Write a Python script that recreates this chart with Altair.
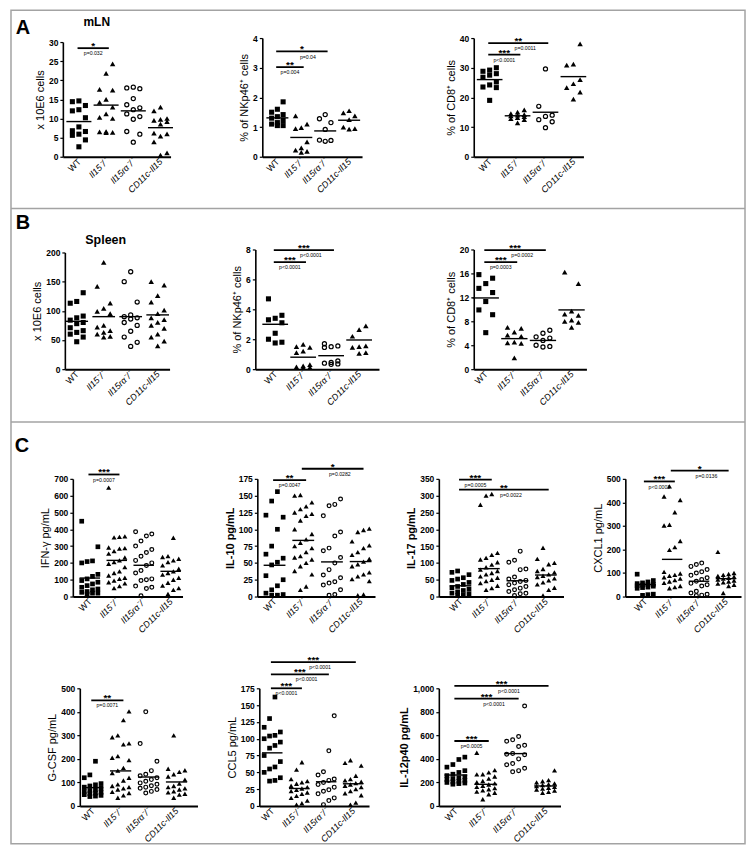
import altair as alt
import pandas as pd

FONT = "Liberation Sans"
GROUPS = ["WT", "Il15⁻/⁻", "Il15rα⁻/⁻", "CD11c-Il15"]

# ---------------- Panel A (mLN) ----------------
A1_WT = [14.6, 14.4, 13.4, 12.3, 12.0, 10.2, 7.8, 6.8, 6.6, 5.9, 5.6, 4.4, 2.6]
A1_KO = [24.3, 21.8, 17.6, 17.4, 15.0, 14.2, 13.0, 11.2, 10.3, 10.0, 6.6, 6.5, 6.4, 6.3]
A1_RA = [18.2, 18.0, 17.8, 15.2, 13.6, 12.8, 12.3, 11.2, 10.5, 9.8, 6.6, 5.9, 3.8]
A1_CD = [13.0, 12.0, 10.0, 9.8, 9.5, 9.2, 8.5, 6.2, 6.0, 5.4, 3.9, 1.0, 0.4]
A1_MEAN = [9.2, 13.5, 12.0, 7.6]
A1_SIG = [(0, 1, 28.4, "*", "p=0.032")]

A2_WT = [1.85, 1.6, 1.5, 1.42, 1.35, 1.3, 1.22, 1.15, 1.1, 1.05, 1.05]
A2_KO = [1.38, 1.1, 0.98, 0.95, 0.5, 0.3, 0.22, 0.18, 0.15]
A2_RA = [1.42, 1.28, 1.15, 0.92, 0.56, 0.55, 0.52]
A2_CD = [1.55, 1.48, 1.38, 1.25, 1.0, 0.95, 0.93]
A2_MEAN = [1.31, 0.65, 0.87, 1.23]
A2_SIG = [(0, 1, 3.02, "**", "p=0.004"), (0, 2, 3.55, "*", "p=0.04")]

A3_WT = [30.0, 29.2, 28.8, 28.0, 27.5, 26.8, 25.2, 24.2, 23.5, 23.3, 19.0]
A3_KO = [15.8, 15.0, 14.5, 14.2, 14.0, 13.8, 13.5, 13.2, 12.8, 12.5, 11.4]
A3_RA = [29.6, 17.0, 14.0, 13.6, 12.5, 11.8, 9.8]
A3_CD = [38.0, 31.2, 30.9, 26.0, 24.6, 23.3, 21.8, 19.4]
A3_MEAN = [26.0, 13.8, 15.0, 27.0]
A3_SIG = [(0, 1, 34.4, "***", "p<0.0001"), (0, 2, 38.3, "**", "p=0.0011")]

# ---------------- Panel B (Spleen) ----------------
B1_WT = [131, 116, 113, 91, 88, 84, 80, 78, 71, 66, 63, 60, 55, 47]
B1_KO = [183, 142, 113, 104, 99, 95, 75, 72, 66, 63, 60, 56, 55]
B1_RA = [167, 150, 115, 93, 90, 88, 86, 80, 75, 65, 55, 46, 39]
B1_CD = [150, 144, 126, 115, 101, 95, 88, 85, 80, 75, 70, 60, 55, 48, 40]
B1_MEAN = [82, 90, 90, 93]
B1_SIG = []

B2_WT = [4.7, 3.6, 3.4, 3.3, 3.1, 2.4, 2.0, 1.8, 1.75]
B2_KO = [1.65, 1.5, 1.45, 1.2, 1.1, 0.3, 0.22, 0.15, 0.12, 0.1]
B2_RA = [1.7, 1.55, 1.5, 1.45, 0.55, 0.45, 0.4, 0.35, 0.32]
B2_CD = [2.9, 2.65, 2.2, 1.55, 1.5, 1.45, 1.1, 1.05]
B2_MEAN = [3.0, 0.8, 0.9, 1.95]
B2_SIG = [(0, 1, 7.15, "***", "p<0.0001"), (0, 2, 7.96, "***", "p<0.0001")]

B3_WT = [15.8, 15.2, 14.3, 13.5, 12.8, 11.3, 9.9, 9.1, 6.1]
B3_KO = [7.0, 6.8, 6.2, 5.7, 5.5, 4.5, 4.4, 4.3, 1.9]
B3_RA = [6.5, 6.0, 5.4, 5.2, 4.8, 4.0, 3.8, 3.7]
B3_CD = [16.2, 14.3, 9.7, 9.2, 9.0, 8.2, 8.0, 7.8, 7.0]
B3_MEAN = [11.9, 5.1, 4.8, 9.9]
B3_SIG = [(0, 1, 17.9, "***", "p=0.0003"), (0, 2, 19.9, "***", "p=0.0002")]

# ---------------- Panel C (cytokines) ----------------
C1_WT = [448, 296, 212, 208, 200, 132, 120, 105, 95, 85, 75, 65, 55, 45, 40, 30, 25, 20, 20, 15]
C1_KO = [648, 358, 355, 352, 292, 288, 285, 270, 255, 232, 215, 205, 195, 175, 150, 140, 125, 112,
         105, 95, 85, 78, 62, 50]
C1_RA = [385, 372, 360, 330, 300, 280, 262, 240, 215, 200, 185, 155, 140, 105, 100, 95, 62, 55, 48, 5]
C1_CD = [350, 240, 235, 225, 215, 205, 185, 165, 150, 140, 130, 112, 100, 82, 65, 50, 40, 15]
C1_MEAN = [110, 215, 186, 150]
C1_SIG = [(0, 1, 726, "***", "p=0.0007")]

C2_WT = [156, 142, 121, 118, 100, 75, 63, 57, 51, 47, 31, 25, 16, 10, 5, 3, 2, 2]
C2_KO = [151, 150, 140, 134, 130, 125, 123, 120, 113, 100, 93, 85, 80, 75, 72, 66, 60, 58, 55, 50,
         45, 38, 33, 15, 10]
C2_RA = [145, 137, 135, 120, 96, 90, 72, 68, 58, 50, 40, 32, 28, 22, 20, 17, 10, 3, 2]
C2_CD = [101, 99, 96, 82, 76, 72, 66, 62, 56, 52, 48, 45, 36, 33, 30, 26, 23, 3, 2]
C2_MEAN = [46.5, 83.5, 51.5, 52]
C2_SIG = [(0, 1, 173, "**", "p=0.0047"), (1, 3, 190, "*", "p=0.0282")]

C3_WT = [76, 72, 65, 56, 52, 48, 42, 36, 30, 26, 22, 18, 14, 10, 8, 5, 3]
C3_KO = [305, 300, 273, 130, 124, 115, 110, 102, 95, 87, 80, 76, 70, 66, 60, 56, 50, 46, 40, 32, 25, 20]
C3_RA = [135, 108, 102, 82, 80, 58, 52, 48, 45, 40, 35, 30, 25, 20, 15, 10, 8, 3]
C3_CD = [145, 112, 100, 96, 82, 76, 72, 66, 62, 58, 54, 48, 42, 36, 26, 20, 3]
C3_MEAN = [32, 83, 47, 64]
C3_SIG = [(0, 1, 348, "***", "p=0.0005"), (0, 3, 318, "**", "p=0.0022")]

C4_WT = [95, 68, 62, 58, 55, 52, 50, 48, 46, 44, 40, 38, 35, 10, 8, 5]
C4_KO = [468, 425, 410, 358, 305, 302, 236, 210, 198, 105, 98, 92, 88, 82, 76, 70, 64, 58, 45, 40, 35]
C4_RA = [142, 136, 128, 115, 105, 100, 90, 80, 72, 65, 56, 50, 45, 22, 15, 10, 6, 4]
C4_CD = [190, 100, 96, 92, 88, 84, 80, 76, 72, 68, 64, 60, 55, 50, 45, 15]
C4_MEAN = [51, 158, 65, 76]
C4_SIG = [(0, 1, 489, "***", "p<0.0001"), (1, 3, 535, "*", "p=0.0136")]

C5_WT = [190, 132, 120, 95, 90, 85, 80, 75, 70, 66, 62, 58, 55, 52, 48, 45, 42, 40]
C5_KO = [402, 365, 300, 292, 266, 262, 212, 205, 195, 162, 150, 140, 120, 108, 92, 85, 80, 75, 70,
         60, 55, 45, 35]
C5_RA = [400, 265, 190, 150, 135, 128, 120, 112, 105, 98, 92, 86, 80, 75, 70, 62, 55]
C5_CD = [300, 158, 152, 145, 135, 125, 112, 95, 85, 80, 75, 70, 62, 58, 52, 48, 35]
C5_MEAN = [78, 149, 123, 102]
C5_SIG = [(0, 1, 449, "**", "p=0.0071")]

C6_WT = [162, 130, 117, 110, 105, 104, 100, 95, 90, 86, 75, 66, 58, 55, 50, 42, 38, 37]
C6_KO = [65, 54, 40, 37, 35, 33, 30, 28, 26, 24, 22, 20, 18, 15, 12, 8, 4, 2]
C6_RA = [134, 82, 51, 46, 40, 38, 35, 32, 28, 24, 22, 18, 12, 8, 2]
C6_CD = [68, 64, 60, 45, 40, 38, 36, 34, 32, 30, 28, 25, 22, 19, 16, 5, 2]
C6_MEAN = [79, 26, 36, 33]
C6_SIG = [(0, 1, 175, "***", "p<0.0001"), (0, 2, 195.8, "***", "p<0.0001"),
          (0, 3, 214, "***", "p<0.0001")]

C7_WT = [415, 395, 352, 330, 300, 285, 270, 258, 248, 240, 232, 225, 218, 210, 205, 200, 195, 190, 185]
C7_KO = [452, 305, 285, 270, 268, 250, 232, 212, 202, 192, 182, 172, 162, 152, 142, 132, 122, 112, 100, 57]
C7_RA = [850, 590, 562, 550, 515, 505, 445, 440, 435, 400, 360, 350, 320, 300, 290]
C7_CD = [302, 220, 210, 200, 192, 185, 178, 170, 162, 155, 148, 140, 130, 120, 112]
C7_MEAN = [263, 184, 445, 170]
C7_SIG = [(0, 1, 552, "***", "p=0.0005"), (0, 2, 912, "***", "p<0.0001"),
          (0, 3, 1020, "***", "p<0.0001")]

LABEL_EXPR = "['" + "','".join(GROUPS) + "'][datum.value]"
DUMMY = pd.DataFrame({"z": [0]})


def panel(groups, means, sigs, ymax, yticks, ytitle, width, height, pad_l, pad_r,
          shift=0, ytop=0, title_bold=False, ncol=3, jit=0.24, hw=0.42, ms=1.0):
    rows = [{"g": gi, "v": v} for gi, vals in enumerate(groups) for v in vals]
    df = pd.DataFrame(rows)
    xs = alt.Scale(domain=[-pad_l, 3 + pad_r], range=[shift, shift + width], nice=False, zero=False)
    ys = alt.Scale(domain=[0, ymax], range=[height, ytop], nice=False, zero=True)
    xax = alt.Axis(values=[0, 1, 2, 3], labelExpr=LABEL_EXPR, labelAngle=-45,
                   labelAlign="right", labelBaseline="middle", labelFont=FONT,
                   labelFontSize=9, labelColor="black",
                   labelFontStyle={"condition": {"test": "datum.value == 0", "value": "normal"},
                                   "value": "italic"},
                   labelPadding=3, ticks=False, domainColor="black", domainWidth=2,
                   grid=False, title=None, labelOverlap=False, labelFlush=False, labelBound=False)
    yax = alt.Axis(values=yticks, title=ytitle, titleFont=FONT, titleFontSize=11,
                   titleFontWeight=("bold" if title_bold else "normal"), titleColor="black",
                   titlePadding=3, labelFont=FONT, labelFontSize=8.5, labelFontWeight="bold",
                   labelColor="black", labelPadding=2, tickSize=3, tickColor="black",
                   tickWidth=1.2, domainColor="black", domainWidth=1.6, grid=False,
                   labelFlush=False, labelOverlap=False, offset=-shift)

    def X(f):
        return alt.X(f, type="quantitative", scale=xs, axis=xax)

    def Y(f):
        return alt.Y(f, type="quantitative", scale=ys, axis=yax)

    half = (ncol - 1) / 2
    pts = alt.Chart(df).transform_window(
        rk="row_number()", groupby=["g"], sort=[alt.SortField("v", order="ascending")]
    ).transform_calculate(xj=f"datum.g + ((datum.rk % {ncol}) - {half}) * {jit}")
    layers = [
        pts.transform_filter("datum.g == 0").mark_square(size=26 * ms, color="black", opacity=1)
        .encode(x=X("xj"), y=Y("v")),
        pts.transform_filter("datum.g == 1").mark_point(shape="triangle-up", filled=True,
                                                         size=30 * ms, color="black", opacity=1)
        .encode(x=X("xj"), y=Y("v")),
        pts.transform_filter("datum.g == 2").mark_point(shape="circle", filled=False,
                                                         size=17 * ms, color="black",
                                                         strokeWidth=1.2, opacity=1)
        .encode(x=X("xj"), y=Y("v")),
        pts.transform_filter("datum.g == 3").mark_point(shape="triangle-up", filled=True,
                                                         size=30 * ms, color="black", opacity=1)
        .encode(x=X("xj"), y=Y("v")),
    ]
    mdf = pd.DataFrame({"g": [0, 1, 2, 3], "m": means})
    layers.append(
        alt.Chart(mdf).transform_calculate(a=f"datum.g - {hw}", b=f"datum.g + {hw}")
        .mark_rule(color="black", strokeWidth=1.4)
        .encode(x=X("a"), x2=alt.X2("b"), y=Y("m"))
    )
    if sigs:
        sdf = pd.DataFrame(sigs, columns=["i", "j", "y", "s", "p"])
        sb = alt.Chart(sdf).transform_calculate(
            a="datum.i - 0.05", b="datum.j + 0.1", c="(datum.i + datum.j + 0.05) / 2",
            pc="(datum.i + datum.j + 0.05) / 2 + (datum.j - datum.i > 1 ? 0.25 : 0)")
        layers.append(sb.mark_rule(color="black", strokeWidth=1.8)
                      .encode(x=X("a"), x2=alt.X2("b"), y=Y("y")))
        layers.append(sb.mark_text(font=FONT, fontSize=10, fontWeight="bold", color="black",
                                   baseline="alphabetic", align="center", dy=1.0)
                      .encode(x=X("c"), y=Y("y"), text="s:N"))
        layers.append(sb.mark_text(font=FONT, fontSize=5.2, color="black", baseline="top",
                                   align="center", dy=3.2)
                      .encode(x=X("pc"), y=Y("y"), text="p:N"))
    return alt.layer(*layers).properties(width=shift + width, height=height)


def spacer(w, h=1):
    return alt.Chart(DUMMY).mark_point(opacity=0).encode(
        x=alt.value(0), y=alt.value(0)).properties(width=w, height=h)


def deco_text(txt, x, y, size):
    return alt.Chart(DUMMY).mark_text(text=txt, font=FONT, fontSize=size, fontWeight="bold",
                                      color="black", align="center", baseline="middle").encode(
        x=alt.value(x), y=alt.value(y))


# decorations drawn from the first grid cell (origin = top-left of row A)
FR = 736
frame = alt.Chart(DUMMY).mark_rect(fillOpacity=0, stroke="#a3a3a3", strokeWidth=1.5).encode(
    x=alt.value(0), x2=alt.value(FR), y=alt.value(-28), y2=alt.value(808))
sep1 = alt.Chart(DUMMY).mark_rule(color="#a3a3a3", strokeWidth=1.5).encode(
    x=alt.value(0), x2=alt.value(FR), y=alt.value(171))
sep2 = alt.Chart(DUMMY).mark_rule(color="#a3a3a3", strokeWidth=1.5).encode(
    x=alt.value(0), x2=alt.value(FR), y=alt.value(385))

L0 = 52
leadA = alt.layer(
    frame, sep1, sep2,
    deco_text("A", 12, -10, 20), deco_text("B", 12, 185, 20), deco_text("C", 11, 409, 20),
    deco_text("mLN", 86, -16, 12), deco_text("Spleen", 95, 203, 12.5),
).properties(width=L0, height=212)

HA, HB, HC = 119, 120, 118
A1 = panel([A1_WT, A1_KO, A1_RA, A1_CD], A1_MEAN, A1_SIG, 30, [0, 5, 10, 15, 20, 25, 30],
           "x 10E6 cells", 108, HA, 0.59, 0.37, shift=0, ytop=4, hw=0.46)
A2 = panel([A2_WT, A2_KO, A2_RA, A2_CD], A2_MEAN, A2_SIG, 4, [0, 1, 2, 3, 4],
           "% of NKp46⁺ cells", 100, HA, 0.63, 0.54, shift=7, hw=0.46)
A3 = panel([A3_WT, A3_KO, A3_RA, A3_CD], A3_MEAN, A3_SIG, 40, [0, 10, 20, 30, 40],
           "% of CD8⁺ cells", 110, HA, 0.57, 0.36, shift=35, hw=0.46)

B1 = panel([B1_WT, B1_KO, B1_RA, B1_CD], B1_MEAN, B1_SIG, 200, [0, 50, 100, 150, 200],
           "x 10E6 cells", 105, HB, 0.44, 0.44, shift=2, ytop=3, hw=0.42)
B2 = panel([B2_WT, B2_KO, B2_RA, B2_CD], B2_MEAN, B2_SIG, 8, [0, 2, 4, 6, 8],
           "% of NKp46⁺ cells", 124, HB, 0.71, 0.71, shift=0, hw=0.46)
B3 = panel([B3_WT, B3_KO, B3_RA, B3_CD], B3_MEAN, B3_SIG, 20, [0, 4, 8, 12, 16, 20],
           "% of CD8⁺ cells", 113, HB, 0.42, 0.52, shift=35, hw=0.46)

CK = dict(ncol=4, jit=0.2, hw=0.38, ms=0.85)
C1 = panel([C1_WT, C1_KO, C1_RA, C1_CD], C1_MEAN, C1_SIG, 700, list(range(0, 701, 100)),
           "IFN-γ pg/mL", 110, HC, 0.63, 0.44, shift=10, **CK)
C2 = panel([C2_WT, C2_KO, C2_RA, C2_CD], C2_MEAN, C2_SIG, 175, list(range(0, 176, 25)),
           "IL-10 pg/mL", 118, HC, 0.6, 0.5, shift=2, title_bold=True, **CK)
C3 = panel([C3_WT, C3_KO, C3_RA, C3_CD], C3_MEAN, C3_SIG, 350, list(range(0, 351, 50)),
           "IL-17 pg/mL", 125, HC, 0.76, 0.62, shift=0, title_bold=True, **CK)
C4 = panel([C4_WT, C4_KO, C4_RA, C4_CD], C4_MEAN, C4_SIG, 500, list(range(0, 501, 100)),
           "CXCL1 pg/mL", 116, HC, 0.74, 0.56, shift=0, **CK)
C5 = panel([C5_WT, C5_KO, C5_RA, C5_CD], C5_MEAN, C5_SIG, 500, list(range(0, 501, 100)),
           "G-CSF pg/mL", 118, HC, 0.46, 0.75, shift=17, **CK)
C6 = panel([C6_WT, C6_KO, C6_RA, C6_CD], C6_MEAN, C6_SIG, 175, list(range(0, 176, 25)),
           "CCL5 pg/mL", 110, HC, 0.48, 0.59, shift=4, **CK)
C7 = panel([C7_WT, C7_KO, C7_RA, C7_CD], C7_MEAN, C7_SIG, 1000, list(range(0, 1001, 200)),
           "IL-12p40 pg/mL", 122, HC, 0.57, 0.5, shift=0, title_bold=True, **CK)

G2, G4, G6 = 58, 60, 39
rowA = [leadA, A1, spacer(G2), A2, spacer(G4), A3, spacer(G6), spacer(1)]
rowB = [spacer(L0, 230), B1, spacer(G2), B2, spacer(G4), B3, spacer(G6), spacer(1)]
rowC1 = [spacer(L0, 210), C1, spacer(G2), C2, spacer(G4), C3, spacer(G6), C4]
rowC2 = [spacer(L0, 118), C5, spacer(G2), C6, spacer(G4), C7, spacer(G6), spacer(1)]

chart = alt.ConcatChart(
    concat=rowA + rowB + rowC1 + rowC2,
    columns=8,
    spacing=0,
    bounds="flush",
    align="each",
    padding=0,
    background="white",
).configure(font=FONT).configure_view(stroke=None, strokeWidth=0)

chart.save("out.html", embed_options={"renderer": "svg", "actions": False})
